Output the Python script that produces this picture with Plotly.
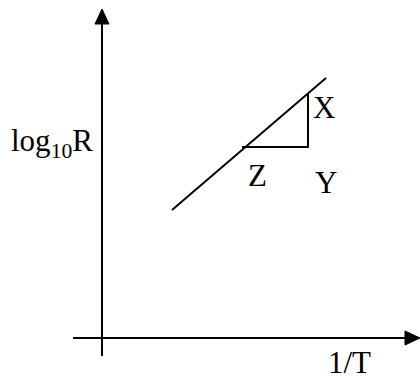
import plotly.graph_objects as go

# Diagram coordinates: origin where the 1/T and log10R axes cross
x_axis_start, x_axis_tip = -2.9, 31.8
y_axis_start, y_axis_tip = -1.8, 32.9

# Straight-line plot of log10R against 1/T
fit_x = [7.0, 22.4]
fit_y = [12.8, 26.0]

# Gradient triangle: Z (on the line) -> Y (right angle) -> X (on the line)
tri_x = [14.0, 20.6, 20.6]
tri_y = [19.1, 19.1, 24.4]

# Text labels
point_labels = ["X", "Z", "Y"]
point_label_x = [22.15, 15.5, 22.4]
point_label_y = [23.05, 16.3, 15.6]
x_title, y_title = "1/T", "log<sub>10</sub>R"

FONT = dict(family="Liberation Serif", size=31, color="black")
LINE = dict(color="black", width=2)

# arrowhead size in data units (x units are 10 px, y units are 10 px)
HEAD_LEN, HEAD_HALF = 1.5, 0.7


def axis_with_head(x0, y0, x1, y1):
    """Line from (x0, y0) to the tip (x1, y1) plus a filled arrowhead."""
    dx, dy = x1 - x0, y1 - y0
    norm = (dx ** 2 + dy ** 2) ** 0.5
    ux, uy = dx / norm, dy / norm
    bx, by = x1 - ux * HEAD_LEN, y1 - uy * HEAD_LEN
    px, py = -uy * HEAD_HALF, ux * HEAD_HALF
    shaft = go.Scatter(x=[x0, bx], y=[y0, by], mode="lines", line=LINE,
                       hoverinfo="skip", showlegend=False)
    head = go.Scatter(x=[x1, bx + px, bx - px, x1], y=[y1, by + py, by - py, y1],
                      mode="lines", fill="toself", fillcolor="black",
                      line=dict(color="black", width=1),
                      hoverinfo="skip", showlegend=False)
    return [shaft, head]


fig = go.Figure()
for tr in axis_with_head(x_axis_start, 0, x_axis_tip, 0):
    fig.add_trace(tr)
for tr in axis_with_head(0, y_axis_start, 0, y_axis_tip):
    fig.add_trace(tr)

fig.add_trace(go.Scatter(x=fit_x, y=fit_y, mode="lines", line=LINE,
                         hoverinfo="skip", showlegend=False))
fig.add_trace(go.Scatter(x=tri_x, y=tri_y, mode="lines", line=LINE,
                         hoverinfo="skip", showlegend=False))

annotations = [
    dict(x=24.7, y=-2.45, text=x_title, showarrow=False, font=FONT,
         xanchor="center", yanchor="middle"),
    dict(x=-0.7, y=19.5, text=y_title, showarrow=False, font=FONT,
         xanchor="right", yanchor="middle"),
]
for t, lx, ly in zip(point_labels, point_label_x, point_label_y):
    annotations.append(dict(x=lx, y=ly, text=t, showarrow=False, font=FONT,
                            xanchor="center", yanchor="middle"))

fig.update_layout(
    width=420, height=381,
    margin=dict(l=0, r=0, t=0, b=0),
    paper_bgcolor="white", plot_bgcolor="white",
    xaxis=dict(range=[-10.2, 31.8], visible=False, fixedrange=True),
    yaxis=dict(range=[-4.3, 33.8], visible=False, fixedrange=True),
    annotations=annotations,
    showlegend=False,
)

fig.write_html("out.html", config={"displayModeBar": False})
